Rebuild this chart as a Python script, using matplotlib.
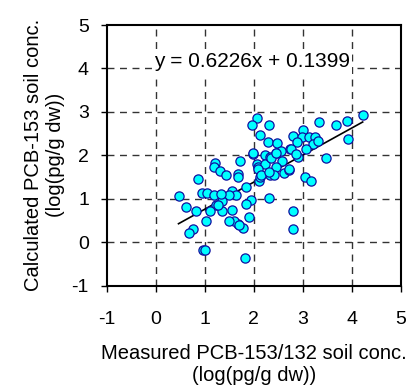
import matplotlib
matplotlib.use("Agg")
import matplotlib.pyplot as plt
import numpy as np

plt.rcParams["font.family"] = ["Liberation Sans", "DejaVu Sans"]
plt.rcParams["axes.unicode_minus"] = False

# measured vs calculated log concentrations
measured = [
    0.46, 0.61, 0.82, 0.85, 0.93, 1.04, 1.19, 1.21, 1.19, 1.31,
    1.42, 1.67, 1.67, 1.72, 1.98, 2.06, 2.08, 2.22, 2.22, 2.33,
    2.33, 2.46, 2.57, 2.62, 2.71, 2.74, 2.90, 3.05, 3.17, 3.48,
    2.11, 2.13, 2.31, 1.94, 1.84, 1.84, 1.90, 1.77, 1.67, 1.60,
    1.50, 1.56, 1.56, 1.63, 1.50, 1.35, 1.35, 1.22, 1.11, 1.02,
    0.76, 0.67, 0.97, 1.01, 1.82, 2.79, 2.79, 3.93, 2.06, 1.96,
    2.30, 2.12, 2.28, 2.48, 2.79, 3.00, 2.99, 3.12, 3.25, 3.32,
    3.67, 3.91, 4.22, 2.88, 3.20, 3.31, 2.76, 2.55, 3.06, 1.99,
    2.35, 2.45, 2.09, 2.14, 2.86, 2.72, 2.45, 2.41, 2.31, 1.70,
    1.33, 1.26,
]
calculated = [
    1.06, 0.82, 0.73, 1.46, 1.13, 1.13, 1.08, 1.83, 1.73, 1.65,
    1.54, 1.58, 1.50, 1.88, 2.04, 1.79, 1.73, 2.00, 1.81, 1.96,
    1.54, 2.06, 1.88, 1.60, 1.67, 2.14, 1.96, 1.50, 1.42, 1.94,
    1.42, 1.50, 1.02, 0.98, 0.88, 1.27, 0.59, 0.32, 0.42, 0.50,
    0.48, 0.75, 1.17, 1.08, 1.08, 0.96, 0.71, 0.85, 0.73, 0.48,
    0.31, 0.22, -0.17, -0.18, -0.37, 0.71, 0.31, 2.38, 2.87, 2.69,
    2.69, 2.47, 2.30, 2.28, 2.45, 2.58, 2.42, 2.43, 2.42, 2.76,
    2.71, 2.80, 2.92, 2.30, 2.27, 2.34, 2.14, 2.11, 2.14, 2.05,
    1.93, 2.05, 1.69, 1.54, 2.04, 1.69, 1.73, 1.54, 1.61, 0.40,
    1.11, 0.85,
]

slope = 0.6226
intercept = 0.1399
ticks = [-1, 0, 1, 2, 3, 4, 5]

fig = plt.figure(figsize=(4.09, 3.89), dpi=100)
ax = fig.add_axes([0.2616, 0.2656, 0.7185, 0.6701])

ax.set_xlim(-1, 5)
ax.set_ylim(-1, 5)
ax.set_xticks(ticks)
ax.set_yticks(ticks)

# dashed grid on inner integer lines
for v in ticks[1:-1]:
    ax.axvline(v, color="#333333", lw=1.0, ls=(0, (5, 4)), zorder=1)
    ax.axhline(v, color="#333333", lw=1.0, ls=(0, (5, 4)), zorder=1)

# regression line
xs = np.array([min(measured), max(measured)])
ax.plot(xs, slope * xs + intercept, color="black", lw=1.2, zorder=2)

ax.scatter(measured, calculated, s=44, facecolor="#00FFFF",
           edgecolor="#1010A0", linewidth=0.9, zorder=3)

ax.text(1.96, 4.15, f"y = {slope}x + {intercept}", fontsize=15,
        ha="center", va="center", zorder=4,
        bbox=dict(facecolor="white", edgecolor="none", pad=1.5))

for s in ax.spines.values():
    s.set_linewidth(1.5)
ax.tick_params(axis="x", direction="out", length=4, width=1, labelsize=14, pad=14)
ax.tick_params(axis="y", direction="out", length=4, width=1, labelsize=14, pad=9)

ax.set_xlabel("Measured PCB-153/132 soil conc.\n(log(pg/g dw))", fontsize=14.5,
              labelpad=12, linespacing=1.15)
ax.set_ylabel("Calculated PCB-153 soil conc.\n(log(pg/g dw))", fontsize=14.5,
              labelpad=5, linespacing=1.15)

fig.savefig("out.png", dpi=100)
